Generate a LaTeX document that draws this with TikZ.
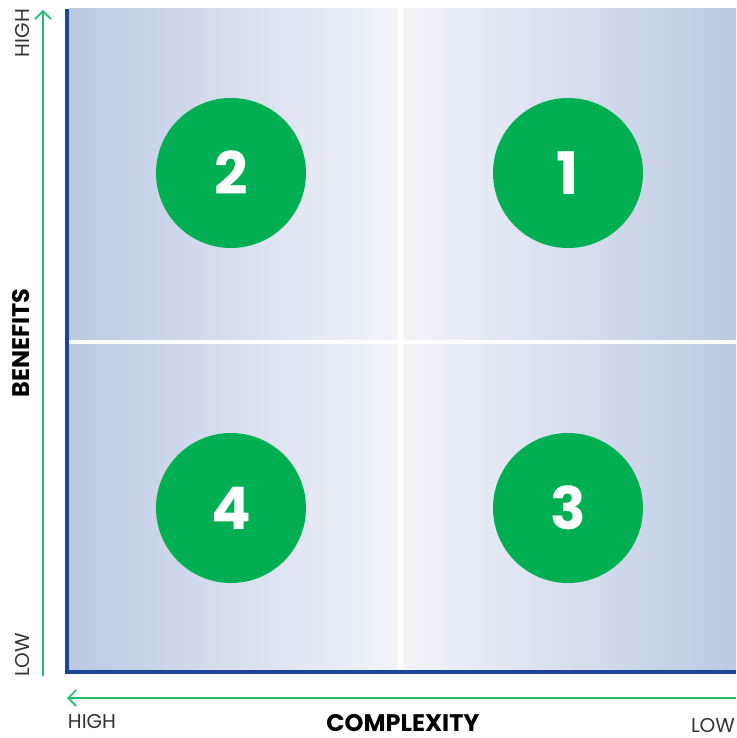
\documentclass[tikz,border=0pt]{standalone}
\usepackage{fontspec}
\usepackage{tikz}
\usetikzlibrary{arrows.meta}
\setmainfont{Poppins}
\definecolor{quadDark}{HTML}{BCC9E2}
\definecolor{quadLight}{HTML}{F2F4F9}
\definecolor{axisBlue}{HTML}{1D4596}
\definecolor{circleGreen}{HTML}{00AF52}
\definecolor{arrowGreen}{HTML}{1FBF6A}
\tikzset{
    quad-left/.style = {left color=quadDark, right color=quadLight, draw=none},
    quad-right/.style = {left color=quadLight, right color=quadDark, draw=none},
    num-circle/.style = {circle, fill=circleGreen, text=white, minimum size=150*0.75pt, inner sep=0pt, font=\fontsize{44}{44}\selectfont\bfseries},
    axis-arrow/.style = {draw=arrowGreen, line width=1.2pt, -{Straight Barb[length=6pt,width=12pt,line width=1.2pt]}},
    axis-end/.style = {text=black!80, inner sep=0pt, text depth=0pt, font=\fontsize{15}{15}\selectfont},
    axis-title/.style = {text=black, inner sep=0pt, text depth=0pt, font=\fontsize{18}{18}\selectfont\bfseries},
}

\begin{document}
\begin{tikzpicture}[x=0.75pt, y=-0.75pt]
\useasboundingbox (0,0) rectangle (736,738);
% quadrants
\shade[quad-left] (69,9) rectangle (398,339);
\shade[quad-left] (69,344) rectangle (398,670);
\shade[quad-right] (403,9) rectangle (736,339);
\shade[quad-right] (403,344) rectangle (736,670);
% blue frame
\draw[axisBlue, line width=3pt] (67,9) -- (67,672) -- (736,672);

\node [num-circle] (q1) at (568,173) {1};
\node [num-circle] (q2) at (231,173) {2};
\node [num-circle] (q3) at (568,508) {3};
\node [num-circle] (q4) at (231,508) {4};

% axes
\coordinate (ben-start) at (43,676);
\coordinate (ben-end) at (43,10);
\coordinate (cx-start) at (736,698);
\coordinate (cx-end) at (67,698);
\draw[axis-arrow] (ben-start) -- (ben-end);
\draw[axis-arrow] (cx-start) -- (cx-end);

\node [axis-end, rotate=90] (ben-high) at (22,33) {HIGH};
\node [axis-end, rotate=90] (ben-low) at (22,655) {LOW};
\node [axis-title, rotate=90] (ben-title) at (21,343) {BENEFITS};
\node [axis-end, anchor=base] (cx-high) at (92,728) {HIGH};
\node [axis-end, anchor=base] (cx-low) at (713,732) {LOW};
\node [axis-title, anchor=base] (cx-title) at (403,731) {COMPLEXITY};
\end{tikzpicture}
\end{document}
